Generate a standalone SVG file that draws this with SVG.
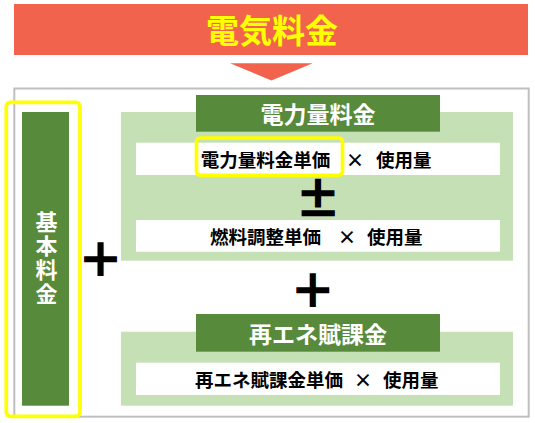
<svg xmlns="http://www.w3.org/2000/svg" width="535" height="423" viewBox="0 0 535 423">
  <style>
    .jp { font-family: "Noto Sans CJK JP", "Noto Sans", sans-serif; font-weight: bold; }
    .row { fill: #ffffff; }
    .panel { fill: #C5E0B4; }
    .dark { fill: #588A3B; }
    .hl { fill: none; stroke: #FFFF00; stroke-width: 3.7; }
    .rowtext { font-size: 18.5px; fill: #000000; dominant-baseline: central; }
    .headtext { font-size: 23px; fill: #ffffff; dominant-baseline: central; text-anchor: middle; }
    .op { font-size: 44px; fill: #000000; stroke: #000000; stroke-width: 1.6; dominant-baseline: central; text-anchor: middle; }
  </style>
  <rect width="535" height="423" fill="#ffffff"/>

  <g id="title">
    <rect x="14" y="4" width="514" height="51" fill="#F2634E"/>
    <text class="jp" x="272" y="29" font-size="33" fill="#FFFF00" text-anchor="middle" dominant-baseline="central">電気料金</text>
  </g>

  <g id="connectors">
    <polygon points="230,63.3 312.7,63.3 271.5,80.5" fill="#F2634E"/>
  </g>

  <g id="frame">
    <rect x="14.3" y="88.5" width="514.4" height="328.2" fill="none" stroke="#BFBFBF" stroke-width="2"/>
  </g>

  <g id="base">
    <rect class="dark" x="22" y="112" width="47" height="293.7"/>
    <text class="jp" x="46.5" y="259" font-size="22" fill="#ffffff" text-anchor="middle" writing-mode="vertical-rl" letter-spacing="2.1">基本料金</text>
    <rect class="hl" x="6.3" y="102.3" width="73.7" height="314" rx="4"/>
  </g>

  <g id="plus1">
    <text class="jp op" x="100.5" y="257">＋</text>
  </g>

  <g id="energy">
    <rect class="panel" x="121" y="112" width="392" height="148.7"/>
    <rect class="dark" x="196" y="95" width="244" height="36.7"/>
    <text class="jp headtext" x="318" y="113.3">電力量料金</text>
    <rect class="row" x="136" y="142.7" width="364" height="32.3"/>
    <text class="jp rowtext"><tspan x="200.8" y="158.8">電力量料金単価</tspan><tspan x="355" y="158.8" text-anchor="middle">×</tspan><tspan x="376" y="158.8">使用量</tspan></text>
    <rect class="hl" x="196.5" y="138" width="146" height="37.3" rx="4"/>
    <text class="jp op" x="318" y="197">±</text>
    <rect class="row" x="136" y="220" width="364" height="31.7"/>
    <text class="jp rowtext"><tspan x="210" y="235.8">燃料調整単価</tspan><tspan x="347" y="235.8" text-anchor="middle">×</tspan><tspan x="367" y="235.8">使用量</tspan></text>
  </g>

  <g id="plus2">
    <text class="jp op" x="312.7" y="287.5">＋</text>
  </g>

  <g id="renewable">
    <rect class="panel" x="121" y="331.7" width="392" height="74"/>
    <rect class="dark" x="196" y="314" width="244" height="37.7"/>
    <text class="jp headtext" x="318" y="332.8">再エネ賦課金</text>
    <rect class="row" x="136" y="362.7" width="364" height="32.3"/>
    <text class="jp rowtext"><tspan x="195" y="378.8">再エネ賦課金単価</tspan><tspan x="363" y="378.8" text-anchor="middle">×</tspan><tspan x="383" y="378.8">使用量</tspan></text>
  </g>
</svg>
